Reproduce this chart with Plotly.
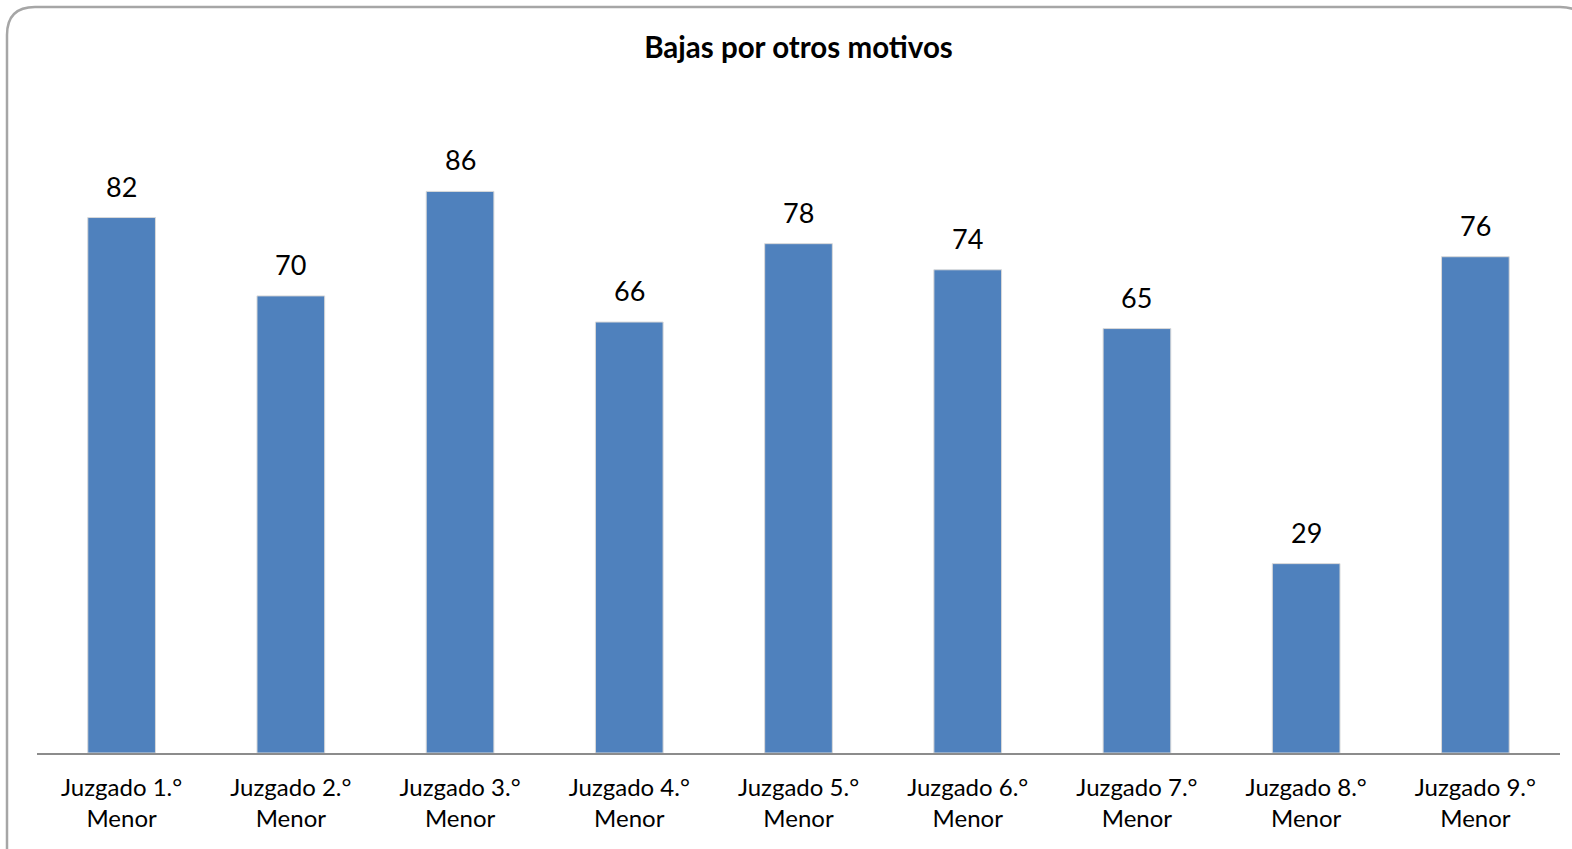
import plotly.graph_objects as go

categories = ["Juzgado 1.°<br>Menor", "Juzgado 2.°<br>Menor", "Juzgado 3.°<br>Menor",
              "Juzgado 4.°<br>Menor", "Juzgado 5.°<br>Menor", "Juzgado 6.°<br>Menor",
              "Juzgado 7.°<br>Menor", "Juzgado 8.°<br>Menor", "Juzgado 9.°<br>Menor"]
values = [82, 70, 86, 66, 78, 74, 65, 29, 76]
title_text = "Bajas por otros motivos"

FONT = "Lato, Open Sans, sans-serif"
W, H = 1572, 849
L, R, T, B = 37, 12, 100, 96
pw, ph = W - L - R, H - T - B

def px(x):
    return (x - L) / pw

def py(y):
    return (H - B - y) / ph

fig = go.Figure(go.Bar(
    x=categories, y=values,
    marker=dict(color="#4F81BD", line=dict(color="#D9D9D9", width=1)),
    width=0.4,
    cliponaxis=False,
))

annotations = [dict(x=c, y=v, xref="x", yref="y", text=str(v), showarrow=False,
                    yanchor="bottom", yshift=13,
                    font=dict(family=FONT, size=27, color="#000000"))
               for c, v in zip(categories, values)]

r = 28
x0, y0 = 7, 7
x1, y1 = 1588, 900
path = (f"M {px(x0)},{py(y1)} L {px(x0)},{py(y0 + r)} Q {px(x0)},{py(y0)} {px(x0 + r)},{py(y0)} "
        f"L {px(x1 - r)},{py(y0)} Q {px(x1)},{py(y0)} {px(x1)},{py(y0 + r)} L {px(x1)},{py(y1)}")

fig.update_layout(
    width=W, height=H,
    margin=dict(l=L, r=R, t=T, b=B),
    paper_bgcolor="white", plot_bgcolor="white",
    title=dict(text=f"<b>{title_text}</b>", x=0.5, xref="paper", y=1 - 48 / H, yanchor="middle",
               font=dict(family=FONT, size=29.5, color="#000000")),
    showlegend=False,
    xaxis=dict(showline=True, linecolor="#8C8C8C", linewidth=1.5, ticks="",
               tickfont=dict(family=FONT, size=24, color="#000000"),
               ticklabelstandoff=12,
               showgrid=False, range=[-0.5, 8.5]),
    yaxis=dict(visible=False, range=[0, 100], showgrid=False),
    annotations=annotations,
    shapes=[dict(type="path", xref="paper", yref="paper", path=path,
                 line=dict(color="#A6A6A6", width=2.5), layer="above")],
)

fig.write_html("out.html", config={"displayModeBar": False},
               post_script="document.body.style.margin='0';document.body.style.overflow='hidden';")
